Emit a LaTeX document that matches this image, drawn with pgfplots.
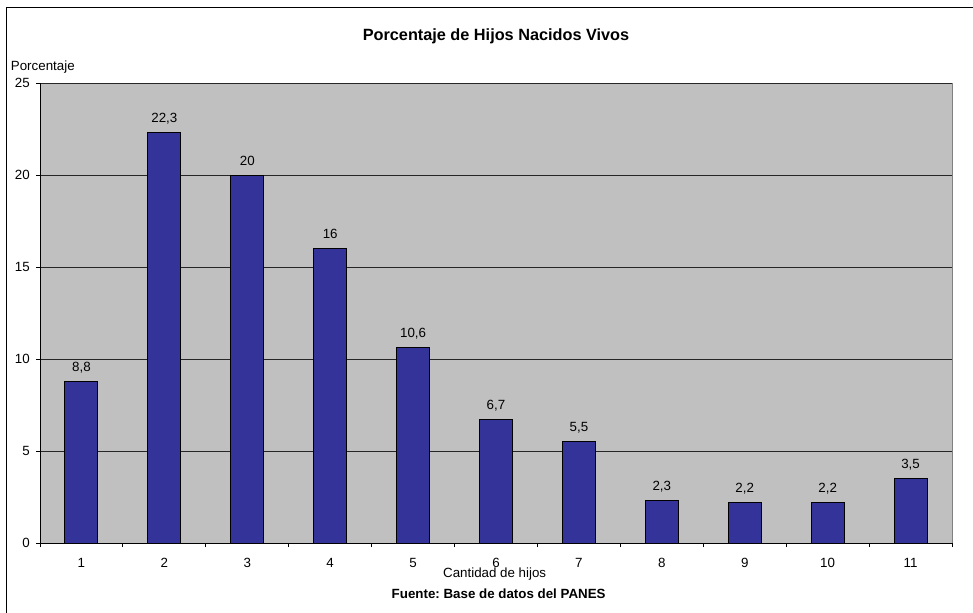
\documentclass[border=0pt]{standalone}
\usepackage{pgfplots}
\pgfplotsset{compat=1.18}
\usepackage{fontspec}
\setmainfont{Liberation Sans}
\frenchspacing
\definecolor{plotgray}{HTML}{C0C0C0}
\definecolor{barblue}{HTML}{333399}

\pgfplotstableread{
hijos pct
1  8.8
2  22.3
3  20
4  16
5  10.6
6  6.7
7  5.5
8  2.3
9  2.2
10 2.2
11 3.5
}\hijostable

\begin{document}
\begin{tikzpicture}
\useasboundingbox (-30pt,-51.75pt) rectangle (699.75pt,407.25pt);
% outer chart frame (right and bottom sides fall outside the picture)
\draw[black, line width=0.75pt] (-25pt,-60pt) -- (-25pt,401.8pt) -- (720pt,401.8pt);
\begin{axis}[
    at={(0,0)}, anchor=south west,
    scale only axis, width=684pt, height=345pt,
    xmin=0.5, xmax=11.5, ymin=0, ymax=25,
    ybar, bar width=24.75pt,
    axis x line*=bottom, axis y line*=left,
    axis line style={-, black, line width=0.75pt},
    axis background/.style={fill=plotgray, draw=gray, line width=0.75pt},
    xtick={1,...,11}, minor xtick={0.5,1.5,...,11.5},
    ytick={0,5,...,25},
    major x tick style={draw=none},
    tick style={black, line width=0.75pt},
    tick align=outside, major tick length=3pt, minor tick length=3pt,
    ymajorgrids, major grid style={black!85, line width=0.75pt},
    ticklabel style={font=\fontsize{10}{12}\selectfont},
    xticklabel style={anchor=base, inner sep=0pt, yshift=-15pt},
    yticklabel style={anchor=east, inner sep=0pt, xshift=-4.5pt},
    /pgf/number format/assume math mode=true,
    nodes near coords={\pgfmathprintnumber[use comma]{\pgfplotspointmeta}},
    nodes near coords style={anchor=base, inner sep=0pt, yshift=7.5pt, font=\fontsize{10}{12}\selectfont, /pgf/number format/assume math mode=true},
    clip=false,
]
\addplot[fill=barblue, draw=black, line width=0.75pt] table[x=hijos, y=pct] {\hijostable};
\end{axis}
\node[anchor=base, font=\fontsize{12.2}{14}\selectfont\bfseries] at (342pt,377.25pt) {Porcentaje de Hijos Nacidos Vivos};
\node[anchor=base west, inner sep=0pt, font=\fontsize{10}{12}\selectfont] at (-22pt,354.75pt) {Porcentaje};
\node[anchor=base, inner sep=0pt, font=\fontsize{10}{12}\selectfont] at (341pt,-25.7pt) {Cantidad de hijos};
\node[anchor=base, inner sep=0pt, font=\fontsize{10}{12}\selectfont\bfseries] at (344pt,-41.5pt) {Fuente: Base de datos del PANES};
\end{tikzpicture}
\end{document}
